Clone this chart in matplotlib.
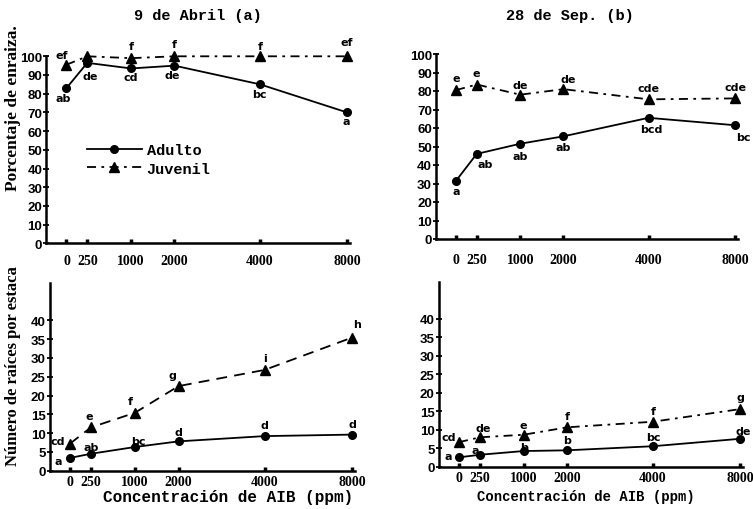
import matplotlib
matplotlib.use('Agg')
import matplotlib.pyplot as plt
from matplotlib.lines import Line2D

# concentraciones de AIB (ppm) y su posicion horizontal en el dibujo original
conc = ['0', '250', '1000', '2000', '4000', '8000']
xpos = [0, 0.074, 0.23, 0.385, 0.69, 1.0]

# porcentaje de enraizamiento
abr_enr_adulto = [83, 96.5, 93.5, 95, 85, 70]
abr_enr_juvenil = [95.5, 100, 99, 100, 100, 100]
sep_enr_adulto = [31.5, 46, 51.5, 55.5, 65.5, 61.5]
sep_enr_juvenil = [80.5, 83.5, 78, 81, 75.5, 76]

# numero de raices por estaca
abr_rai_adulto = [3.4, 4.5, 6.3, 7.8, 9.2, 9.6]
abr_rai_juvenil = [7.2, 11.5, 15.4, 22.5, 26.8, 35.4]
sep_rai_adulto = [2.6, 3.3, 4.3, 4.5, 5.6, 7.6]
sep_rai_juvenil = [6.7, 8.0, 8.7, 10.7, 12.2, 15.6]

# letras de significancia
abr_enr_adulto_let = ['ab', 'de', 'cd', 'de', 'bc', 'a']
abr_enr_juvenil_let = ['ef', '', 'f', 'f', 'f', 'ef']
sep_enr_adulto_let = ['a', 'ab', 'ab', 'ab', 'bcd', 'bc']
sep_enr_juvenil_let = ['e', 'e', 'de', 'de', 'cde', 'cde']
abr_rai_adulto_let = ['a', 'ab', 'bc', 'd', 'd', 'd']
abr_rai_juvenil_let = ['cd', 'e', 'f', 'g', 'i', 'h']
sep_rai_adulto_let = ['a', 'a', 'b', 'b', 'bc', 'de']
sep_rai_juvenil_let = ['cd', 'de', 'e', 'f', 'f', 'g']

W, H = 753, 510
fig = plt.figure(figsize=(W / 100, H / 100), dpi=100)
fig.patch.set_facecolor('white')


def rect(l, r, b, t):
    return [l / W, 1 - b / H, (r - l) / W, (b - t) / H]


def panel(box, ymax, yticks, ad, juv, ad_let, juv_let, ad_off, juv_off, juv_ls, xpad):
    ax = fig.add_axes(box)
    ax.set_xlim(-0.072, 1.01)
    ax.set_ylim(0, ymax)
    for s in ['top', 'right']:
        ax.spines[s].set_visible(False)
    for s in ['left', 'bottom']:
        ax.spines[s].set_linewidth(1.8)
    ax.plot(xpos, ad, color='black', lw=1.3, marker='o', ms=5.5, clip_on=False)
    ax.plot(xpos, juv, color='black', lw=1.3, ls=juv_ls, marker='^', ms=7.5, clip_on=False)
    for x, y, t, o in zip(xpos, ad, ad_let, ad_off):
        ax.annotate(t, (x, y), xytext=o, textcoords='offset pixels', ha='center', va='center',
                    fontsize=8, fontweight='bold', family='DejaVu Sans')
    for x, y, t, o in zip(xpos, juv, juv_let, juv_off):
        ax.annotate(t, (x, y), xytext=o, textcoords='offset pixels', ha='center', va='center',
                    fontsize=8, fontweight='bold', family='DejaVu Sans')
    ax.set_xticks(xpos)
    ax.set_xticklabels(conc, family='Liberation Serif', fontweight='bold', fontsize=10)
    ax.set_yticks(yticks)
    ax.set_yticklabels([str(v) for v in yticks], family='Liberation Sans', fontweight='bold', fontsize=9.5)
    ax.tick_params(axis='x', direction='in', length=3, width=2.5, pad=xpad)
    ax.tick_params(axis='y', direction='inout', length=4, width=1.3, pad=1)
    return ax


dashdot = (0, (5, 3, 1.5, 3))
dashed = (0, (6, 4))

ax1 = panel(rect(46.3, 349.8, 244.3, 57.3), 100, list(range(0, 101, 10)),
            abr_enr_adulto, abr_enr_juvenil, abr_enr_adulto_let, abr_enr_juvenil_let,
            [(-3, -10), (3, -13), (0, -9), (-2, -9), (-1, -10), (-1, -9)],
            [(-5, 10), (0, 0), (0, 12), (0, 12), (0, 10), (0, 14)], dashdot, 8)
ax2 = panel(rect(436, 737.8, 240, 55), 100, list(range(0, 101, 10)),
            sep_enr_adulto, sep_enr_juvenil, sep_enr_adulto_let, sep_enr_juvenil_let,
            [(0, -10), (8, -10), (0, -12), (0, -11), (3, -11), (8, -12)],
            [(0, 12), (0, 12), (0, 10), (5, 10), (0, 11), (0, 11)], dashdot, 10)
ax3 = panel(rect(49.7, 354.8, 471.7, 283.7), 50, list(range(0, 41, 5)),
            abr_rai_adulto, abr_rai_juvenil, abr_rai_adulto_let, abr_rai_juvenil_let,
            [(-12, -3), (0, 7), (4, 6), (0, 9), (0, 11), (0, 11)],
            [(-12, 3), (-2, 11), (-5, 12), (-6, 11), (0, 12), (5, 14)], dashed, 3)
ax4 = panel(rect(438.8, 742.8, 468, 282.5), 50, list(range(0, 41, 5)),
            sep_rai_adulto, sep_rai_juvenil, sep_rai_adulto_let, sep_rai_juvenil_let,
            [(-11, 1), (-5, 5), (0, 4), (0, 10), (0, 9), (3, 8)],
            [(-10, 5), (3, 9), (0, 10), (0, 11), (0, 11), (0, 12)], dashdot, 3)

mono = dict(family='Liberation Mono', fontweight='bold')
fig.text(198 / W, 1 - 16 / H, '9 de Abril (a)', ha='center', va='center', fontsize=11, **mono)
fig.text(570 / W, 1 - 16 / H, '28 de Sep. (b)', ha='center', va='center', fontsize=11, **mono)
fig.text(228 / W, 1 - 498 / H, 'Concentración de AIB (ppm)', ha='center', va='center', fontsize=11.5, **mono)
fig.text(586 / W, 1 - 497 / H, 'Concentración de AIB (ppm)', ha='center', va='center', fontsize=10, **mono)
fig.text(13 / W, 1 - 108 / H, 'Porcentaje de enraiza.', rotation=90, ha='center', va='center',
         fontsize=12.5, family='Liberation Serif', fontweight='bold')
fig.text(13 / W, 1 - 366 / H, 'Número de raíces por estaca', rotation=90, ha='center', va='center',
         fontsize=12, family='Liberation Serif', fontweight='bold')

handles = [Line2D([], [], color='black', lw=1.3, marker='o', ms=5.5),
           Line2D([], [], color='black', lw=1.3, ls=dashdot, marker='^', ms=7.5)]
ax1.legend(handles, ['Adulto', 'Juvenil'], loc='upper left', bbox_to_anchor=(0.134, 0.535),
           frameon=False, handlelength=3.6, handletextpad=0.3, borderpad=0, borderaxespad=0,
           labelspacing=0.3, prop=dict(family='Liberation Mono', weight='bold', size=11))

fig.savefig('out.png', dpi=100, facecolor='white')
